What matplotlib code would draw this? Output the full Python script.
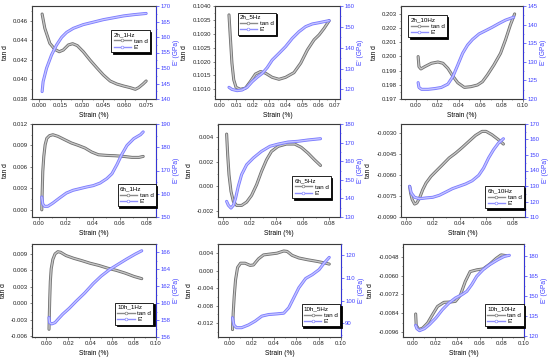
import numpy as np
import matplotlib
matplotlib.use('Agg')
import matplotlib.pyplot as plt
from matplotlib.lines import Line2D
from matplotlib.ticker import AutoMinorLocator

plt.rcParams['font.family'] = ['Liberation Sans', 'DejaVu Sans']

# ---- data (strain %, tan d) and (strain %, E' GPa) ----
# 2h_1Hz
x_tan_2h_1 = [0.0021, 0.004, 0.0075, 0.011, 0.0141, 0.0169, 0.0205, 0.0235, 0.0268, 0.031, 0.0357,
              0.0404, 0.0451, 0.0498, 0.0545, 0.0592, 0.0639, 0.0675, 0.0698, 0.0729, 0.0751]
tan_2h_1 = [0.04668, 0.04522, 0.04369, 0.04307, 0.04283, 0.0430, 0.04352, 0.04365, 0.04345, 0.04283, 0.04198,
            0.0412, 0.04045, 0.03984, 0.03953, 0.03933, 0.03916, 0.03899, 0.03916, 0.03953, 0.03984]
x_E_2h_1 = [0.0021, 0.0028, 0.0052, 0.0087, 0.0122, 0.0158, 0.0193, 0.024, 0.031, 0.0381, 0.0451,
            0.0522, 0.0592, 0.0663, 0.0751]
E_2h_1 = [142.4, 145.6, 149.9, 154.2, 157.4, 159.9, 161.5, 162.8, 164.0, 164.8, 165.6, 166.2, 166.8, 167.2, 167.6]

# 2h_5Hz
x_tan_2h_5 = [0.0055, 0.0063, 0.0073, 0.0084, 0.0098, 0.0124, 0.0155, 0.0185, 0.0216, 0.0247, 0.0277,
              0.0318, 0.0359, 0.0399, 0.045, 0.0491, 0.0532, 0.0572, 0.0603, 0.0634, 0.0664]
tan_2h_5 = [0.10368, 0.1029, 0.10194, 0.10134, 0.10107, 0.1010, 0.10104, 0.10128, 0.10155, 0.10164, 0.10158,
            0.10143, 0.10136, 0.10143, 0.1016, 0.10194, 0.10242, 0.10278, 0.10296, 0.1032, 0.10347]
x_E_2h_5 = [0.0055, 0.0073, 0.0104, 0.0134, 0.0165, 0.0196, 0.0226, 0.0257, 0.0287, 0.0318, 0.0359,
            0.0399, 0.044, 0.0481, 0.0521, 0.0562, 0.0603, 0.0664]
E_2h_5 = [121.0, 120.0, 119.4, 119.7, 121.0, 123.7, 125.8, 127.7, 130.4, 134.1, 137.3,
          140.5, 144.5, 147.7, 150.1, 151.4, 152.0, 153.0]

# 2h_10Hz
x_tan_2h_10 = [0.0020, 0.0028, 0.0046, 0.0082, 0.0144, 0.0205, 0.0252, 0.0298, 0.0344, 0.039, 0.0452,
               0.0513, 0.0575, 0.0621, 0.0667, 0.0728, 0.079, 0.0836, 0.0882, 0.0922]
tan_2h_10 = [0.19999, 0.19928, 0.19912, 0.19928, 0.19952, 0.19961, 0.19952, 0.19916, 0.19862, 0.19815, 0.19782,
             0.19787, 0.19799, 0.19822, 0.19869, 0.1994, 0.20022, 0.20116, 0.20222, 0.2030]
x_E_2h_10 = [0.0020, 0.0028, 0.0052, 0.0113, 0.0175, 0.0236, 0.0298, 0.0344, 0.039, 0.0436, 0.0482,
             0.0528, 0.059, 0.0652, 0.0713, 0.0775, 0.0836, 0.0913]
E_2h_10 = [124.4, 123.1, 122.6, 122.6, 122.8, 123.1, 124.0, 126.0, 129.1, 132.3, 134.5,
           136.0, 137.5, 138.4, 139.3, 140.3, 141.2, 142.0]

# 6h_1Hz
x_tan_6h_1 = [0.00225, 0.0025, 0.003, 0.00375, 0.00475, 0.006, 0.008, 0.0105, 0.0143, 0.0193, 0.0243,
              0.0293, 0.0343, 0.0393, 0.0443, 0.0505, 0.0568, 0.063, 0.0693, 0.0743, 0.0775]
tan_6h_1 = [0.0, 0.0021, 0.00537, 0.00747, 0.0091, 0.0100, 0.01037, 0.0105, 0.01027, 0.0098, 0.00934,
            0.00901, 0.00864, 0.00808, 0.0077, 0.00761, 0.00756, 0.00747, 0.00733, 0.00733, 0.00747]
x_E_6h_1 = [0.00225, 0.003, 0.00425, 0.00675, 0.0105, 0.0155, 0.0205, 0.0255, 0.0305, 0.0355, 0.0405,
            0.0455, 0.0505, 0.0543, 0.058, 0.0618, 0.0655, 0.0705, 0.0755, 0.0775]
E_6h_1 = [158.6, 155.6, 154.6, 154.6, 156.0, 158.2, 160.3, 161.5, 162.2, 162.9, 163.5,
          164.6, 166.5, 168.6, 172.5, 177.1, 180.8, 183.7, 185.4, 186.6]

# 6h_5Hz
x_tan_6h_5 = [0.0025, 0.0033, 0.0043, 0.0058, 0.0076, 0.0101, 0.0138, 0.0176, 0.0213, 0.0251, 0.0288,
              0.0326, 0.0363, 0.0413, 0.0476, 0.0538, 0.0588, 0.0638, 0.0688, 0.0733]
tan_6h_5 = [0.00424, 0.00256, 0.00093, -0.00042, -0.00124, -0.00156, -0.00156, -0.00129, -0.00075, 0.00012, 0.0012,
            0.00215, 0.00283, 0.00324, 0.00343, 0.00343, 0.00316, 0.0027, 0.00215, 0.00169]
x_E_6h_5 = [0.0025, 0.0038, 0.0058, 0.0076, 0.0093, 0.0113, 0.0138, 0.0176, 0.0226, 0.0288, 0.0351,
            0.0413, 0.0488, 0.0563, 0.0638, 0.0733]
E_6h_5 = [138.4, 136.3, 134.8, 136.3, 140.2, 146.5, 152.8, 158.1, 161.7, 165.3, 168.0,
          169.2, 170.3, 170.7, 171.4, 172.1]

# 6h_10Hz
x_tan_6h_10 = [0.0025, 0.0032, 0.0044, 0.0062, 0.0079, 0.0099, 0.0123, 0.0148, 0.0185, 0.0222, 0.0272,
               0.0321, 0.037, 0.042, 0.0469, 0.0519, 0.0568, 0.0598, 0.0642, 0.0691, 0.0728]
tan_6h_10 = [-0.00683, -0.00731, -0.00778, -0.0081, -0.00802, -0.00767, -0.00707, -0.00659, -0.00611, -0.00575, -0.00527,
             -0.00479, -0.00444, -0.00403, -0.0036, -0.00317, -0.00288, -0.00288, -0.00312, -0.00348, -0.00379]
x_E_6h_10 = [0.0025, 0.0037, 0.0062, 0.0099, 0.0148, 0.0198, 0.0247, 0.0296, 0.0346, 0.0395, 0.0444,
             0.0494, 0.0543, 0.058, 0.0617, 0.0654, 0.0691, 0.0728]
E_6h_10 = [129.8, 125.5, 122.7, 121.8, 122.3, 122.7, 124.0, 126.1, 128.3, 129.8, 131.3,
           133.4, 136.9, 141.6, 148.1, 153.4, 157.7, 160.5]

# 10h_1Hz
x_tan_10h_1 = [0.0025, 0.0028, 0.0032, 0.0037, 0.0045, 0.006, 0.008, 0.0105, 0.013, 0.018, 0.025,
               0.032, 0.040, 0.048, 0.056, 0.064, 0.072, 0.080, 0.087]
tan_10h_1 = [-0.0047, -0.002, 0.001, 0.004, 0.0063, 0.0080, 0.0090, 0.0094, 0.0093, 0.0087, 0.0082,
             0.0078, 0.0073, 0.0069, 0.0064, 0.0060, 0.0055, 0.0049, 0.0045]
x_E_10h_1 = [0.0025, 0.003, 0.005, 0.008, 0.0107, 0.015, 0.021, 0.027, 0.035, 0.0427, 0.050,
             0.058, 0.0655, 0.073, 0.081, 0.087]
E_10h_1 = [158.3, 157.7, 157.55, 157.7, 158.1, 158.7, 159.4, 160.2, 161.2, 162.3, 163.2,
           164.0, 164.6, 165.2, 165.8, 166.2]

# 10h_5Hz
x_tan_10h_5 = [0.003, 0.0036, 0.0045, 0.0057, 0.0075, 0.0102, 0.0142, 0.0187, 0.0217, 0.0262, 0.0307,
               0.0367, 0.0428, 0.0488, 0.0518, 0.0563, 0.0623, 0.0699, 0.0789, 0.0864, 0.0895]
tan_10h_5 = [-0.0135, -0.0097, -0.0059, -0.0021, 0.00072, 0.0017, 0.0017, 0.0012, 0.0013, 0.0027, 0.0036,
             0.0038, 0.0040, 0.0045, 0.0044, 0.0035, 0.0029, 0.0025, 0.0021, 0.0017, 0.0015]
x_E_10h_5 = [0.003, 0.0042, 0.0066, 0.0111, 0.0172, 0.0232, 0.0292, 0.0352, 0.0428, 0.0488, 0.0533,
             0.0578, 0.0623, 0.0684, 0.0744, 0.0804, 0.0849, 0.0895]
E_10h_5 = [92.5, 89.3, 88.1, 88.1, 89.3, 91.0, 93.2, 93.9, 94.2, 94.5, 96.9,
           101.3, 105.7, 109.8, 111.5, 113.7, 116.6, 119.1]

# 10h_10Hz
x_tan_10h_10 = [0.0024, 0.0029, 0.0053, 0.0088, 0.0132, 0.0176, 0.0221, 0.0279, 0.0338, 0.0382, 0.0426,
                0.0471, 0.0515, 0.0574, 0.0632, 0.0691, 0.075, 0.0794, 0.0838]
tan_10h_10 = [-0.00844, -0.00916, -0.00943, -0.00933, -0.00901, -0.00848, -0.00796, -0.0077, -0.00768, -0.00764, -0.00726,
              -0.00638, -0.00575, -0.00564, -0.00558, -0.00528, -0.00491, -0.00469, -0.00474]
x_E_10h_10 = [0.0024, 0.0035, 0.0059, 0.0103, 0.0147, 0.0206, 0.0265, 0.0324, 0.0382, 0.0441, 0.0485,
              0.0529, 0.0574, 0.0632, 0.0691, 0.0765, 0.0824, 0.0868]
E_10h_10 = [128.25, 125.75, 124.25, 125.75, 128.75, 133.75, 140.0, 145.0, 148.75, 151.25, 153.75,
            158.75, 165.0, 170.0, 173.75, 177.5, 180.0, 180.75]

labels = ['2h_1Hz', '2h_5Hz', '2h_10Hz', '6h_1Hz', '6h_5Hz', '6h_10Hz', '10h_1Hz', '10h_5Hz', '10h_10Hz']

series = [
    (x_tan_2h_1, tan_2h_1, x_E_2h_1, E_2h_1),
    (x_tan_2h_5, tan_2h_5, x_E_2h_5, E_2h_5),
    (x_tan_2h_10, tan_2h_10, x_E_2h_10, E_2h_10),
    (x_tan_6h_1, tan_6h_1, x_E_6h_1, E_6h_1),
    (x_tan_6h_5, tan_6h_5, x_E_6h_5, E_6h_5),
    (x_tan_6h_10, tan_6h_10, x_E_6h_10, E_6h_10),
    (x_tan_10h_1, tan_10h_1, x_E_10h_1, E_10h_1),
    (x_tan_10h_5, tan_10h_5, x_E_10h_5, E_10h_5),
    (x_tan_10h_10, tan_10h_10, x_E_10h_10, E_10h_10),
]

# tick labels per panel
x_ticklabels = [['0.000', '0.015', '0.030', '0.045', '0.060', '0.075'],
                ['0.00', '0.01', '0.02', '0.03', '0.04', '0.05', '0.06', '0.07'],
                ['0.00', '0.02', '0.04', '0.06', '0.08', '0.10'],
                ['0.00', '0.02', '0.04', '0.06', '0.08'],
                ['0.00', '0.02', '0.04', '0.06', '0.08'],
                ['0.00', '0.02', '0.04', '0.06', '0.08'],
                ['0.00', '0.02', '0.04', '0.06', '0.08', '0.10'],
                ['0.00', '0.02', '0.04', '0.06', '0.08', '0.10'],
                ['0.00', '0.02', '0.04', '0.06', '0.08', '0.10']]
tan_ticklabels = [['0.038', '0.040', '0.042', '0.044', '0.046'],
                  ['0.1010', '0.1015', '0.1020', '0.1025', '0.1030', '0.1035', '0.1040'],
                  ['0.197', '0.198', '0.199', '0.200', '0.201', '0.202', '0.203'],
                  ['0.000', '0.003', '0.006', '0.009', '0.012'],
                  ['-0.002', '0.000', '0.002', '0.004'],
                  ['-0.0090', '-0.0075', '-0.0060', '-0.0045', '-0.0030'],
                  ['-0.006', '-0.003', '0.000', '0.003', '0.006', '0.009'],
                  ['-0.012', '-0.008', '-0.004', '0.000', '0.004'],
                  ['-0.0096', '-0.0084', '-0.0072', '-0.0060', '-0.0048']]
E_ticklabels = [['140', '145', '150', '155', '160', '165', '170'],
                ['120', '130', '140', '150', '160'],
                ['120', '125', '130', '135', '140', '145'],
                ['150', '160', '170', '180', '190'],
                ['130', '140', '150', '160', '170', '180'],
                ['110', '120', '130', '140', '150', '160', '170'],
                ['156', '158', '160', '162', '164', '166'],
                ['90', '100', '110', '120'],
                ['120', '135', '150', '165', '180']]

xlims = [(-0.005, 0.082), (-0.003, 0.073), (-0.014, 0.100),
         (-0.005, 0.087), (-0.004, 0.088), (-0.004, 0.089),
         (-0.013, 0.100), (-0.010, 0.100), (-0.009, 0.100)]
ylims = [(0.038, 0.0475), (0.10065, 0.1040), (0.197, 0.20356),
         (-0.001, 0.012), (-0.0025, 0.00506), (-0.00903, -0.00235),
         (-0.0061, 0.0108), (-0.0152, 0.0061), (-0.0099, -0.0040)]
elims = [(140, 170), (115.4, 160), (120, 145), (150, 190), (130, 180), (110, 170),
         (156, 167), (84, 125), (119.5, 189.25)]

# axes boxes in pixels: left, right, top, bottom
boxes = [(32, 156, 6, 99), (215, 340, 6, 99), (401, 523, 6, 99),
         (32, 156, 124, 217), (218, 340, 124, 217), (401, 525, 124, 217),
         (32, 156, 244, 337), (218, 341, 244, 337), (403, 524, 244, 337)]
legpos = [(0.64, 0.74), (0.18, 0.93), (0.06, 0.90),
          (0.69, 0.35), (0.61, 0.44), (0.68, 0.33),
          (0.67, 0.37), (0.68, 0.35), (0.68, 0.35)]

W, H = 550, 360
fig = plt.figure(figsize=(5.5, 3.6), dpi=100)

gray_dark, gray_light = '#6f6f6f', '#c6c6c6'
blue_dark, blue_light = '#7a7aff', '#c4c4ff'
blue_axis = '#4040ff'
fs = 4.3


def band(axis, x, y, dark, light):
    # thick outlined curve, like the overlapping open markers of the original
    axis.plot(x, y, color=dark, lw=2.2, solid_capstyle='round', solid_joinstyle='round')
    axis.plot(x, y, color=light, lw=1.0, solid_capstyle='round', solid_joinstyle='round')


for i in range(9):
    l, r, t, b = boxes[i]
    ax = fig.add_axes([l / W, 1 - b / H, (r - l) / W, (b - t) / H])
    ax2 = ax.twinx()
    xt, yt, xe, ye = series[i]

    band(ax, xt, yt, gray_dark, gray_light)
    band(ax2, xe, ye, blue_dark, blue_light)

    ax.set_xticks([float(s) for s in x_ticklabels[i]])
    ax.set_xticklabels(x_ticklabels[i])
    ax.set_yticks([float(s) for s in tan_ticklabels[i]])
    ax.set_yticklabels(tan_ticklabels[i])
    ax2.set_yticks([float(s) for s in E_ticklabels[i]])
    ax2.set_yticklabels(E_ticklabels[i])
    ax.set_xlim(xlims[i])
    ax.set_ylim(ylims[i])
    ax2.set_ylim(elims[i])

    ax.xaxis.set_minor_locator(AutoMinorLocator(2))
    ax.yaxis.set_minor_locator(AutoMinorLocator(2))
    ax2.yaxis.set_minor_locator(AutoMinorLocator(2))

    ax.tick_params(labelsize=fs, length=1.8, width=0.5, pad=1.2, color='#555555', labelcolor='#222222')
    ax.tick_params(which='minor', length=1.0, width=0.4, color='#555555')
    ax2.tick_params(labelsize=fs, length=1.8, width=0.5, pad=1.2, colors=blue_axis)
    ax2.tick_params(which='minor', length=1.0, width=0.4, colors=blue_axis)

    for s in ['left', 'bottom', 'top']:
        ax2.spines[s].set_linewidth(0.5)
        ax2.spines[s].set_color('#555555')
    ax2.spines['right'].set_color(blue_axis)
    ax2.spines['right'].set_linewidth(0.6)

    ax.set_xlabel('Strain (%)', fontsize=4.8, labelpad=2.5)
    ax.set_ylabel('tan d', fontsize=4.8, labelpad=3)
    ax2.set_ylabel("E' (GPa)", fontsize=4.8, color=blue_axis, labelpad=2)

    h1 = Line2D([], [], color='#8a8a8a', lw=1.0, marker='o', ms=2.0, mfc='white', mec='#6f6f6f', mew=0.4)
    h2 = Line2D([], [], color='#8f8fff', lw=1.0, marker='o', ms=2.0, mfc='white', mec='#7a7aff', mew=0.4)
    leg = ax2.legend([h1, h2], ['tan d', "E'"], title=labels[i], loc='upper left',
                     bbox_to_anchor=legpos[i], fontsize=4.5, title_fontsize=4.5,
                     frameon=True, fancybox=False, edgecolor='black',
                     shadow={'color': 'black', 'alpha': 1.0, 'ox': 1.2, 'oy': -1.2},
                     handlelength=2.8, handletextpad=0.4, borderpad=0.35,
                     labelspacing=0.15, borderaxespad=0)
    leg.get_frame().set_linewidth(0.6)
    leg._legend_box.align = 'left'

plt.savefig('out.png', dpi=100)
